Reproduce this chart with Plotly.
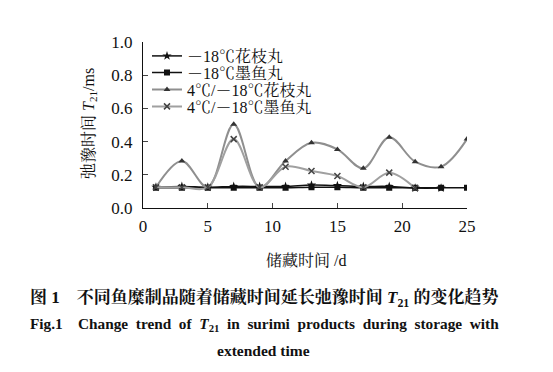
import plotly.graph_objects as go

days_a = [1, 3, 5, 7, 9, 11, 13, 15, 17, 19, 21, 23]
frozen_huazhi = [0.125, 0.13, 0.125, 0.13, 0.13, 0.13, 0.138, 0.135, 0.13, 0.13, 0.12, 0.12]

days_b = [1, 3, 5, 7, 9, 11, 13, 15, 17, 19, 21, 23, 25]
frozen_moyu = [0.122, 0.122, 0.122, 0.122, 0.122, 0.122, 0.125, 0.125, 0.122, 0.122, 0.122, 0.122, 0.122]

days_c = [1, 3, 5, 7, 9, 11, 13, 15, 17, 19, 21, 23, 25]
chill_huazhi = [0.125, 0.283, 0.125, 0.504, 0.125, 0.283, 0.393, 0.353, 0.239, 0.426, 0.279, 0.249, 0.415]

days_d = [1, 3, 5, 7, 9, 11, 13, 15, 17, 19, 21]
chill_moyu = [0.125, 0.125, 0.125, 0.415, 0.125, 0.249, 0.223, 0.193, 0.125, 0.213, 0.12]

names = ["－18℃花枝丸", "－18℃墨鱼丸", "4℃/－18℃花枝丸", "4℃/－18℃墨鱼丸"]
y_ticks = [0, 0.2, 0.4, 0.6, 0.8, 1.0]
y_ticktext = ["0.0", "0.2", "0.4", "0.6", "0.8", "1.0"]
x_ticks = [0, 5, 10, 15, 20, 25]

SERIF = "Liberation Serif, Times New Roman, Noto Serif CJK SC, Noto Sans CJK SC, serif"

L, R, T, B = 143, 86, 42, 164
W, H = 553, 372
PW, PH = W - L - R, H - T - B

def px_x(x):
    return (x - L) / PW

def px_y(y):
    return (H - B - y) / PH

fig = go.Figure()
fig.add_trace(go.Scatter(x=days_a, y=frozen_huazhi, name=names[0], mode="lines+markers",
                         legend="legend",
                         line=dict(color="#111111", width=1.5, shape="spline"),
                         marker=dict(symbol="star", size=7, color="#111111")))
fig.add_trace(go.Scatter(x=days_b, y=frozen_moyu, name=names[1], mode="lines+markers",
                         legend="legend2",
                         line=dict(color="#111111", width=1.5, shape="spline"),
                         marker=dict(symbol="square", size=6, color="#111111")))
fig.add_trace(go.Scatter(x=days_c, y=chill_huazhi, name=names[2], mode="lines+markers",
                         legend="legend3",
                         line=dict(color="#8f8f8f", width=2, shape="spline", smoothing=1.0),
                         marker=dict(symbol="triangle-up", size=6, color="#333333")))
fig.add_trace(go.Scatter(x=days_d, y=chill_moyu, name=names[3], mode="lines+markers",
                         legend="legend4",
                         line=dict(color="#a0a0a0", width=2, shape="spline", smoothing=1.0),
                         marker=dict(symbol="x-thin-open", size=6, color="#444444",
                                     line=dict(width=1.5, color="#444444"))))

legend_rows = [56, 72.7, 89.5, 106.5]
leg_common = dict(x=px_x(147), xanchor="left", yanchor="middle",
                  bgcolor="rgba(0,0,0,0)", font=dict(size=16, family=SERIF),
                  itemwidth=30, borderwidth=0)

fig.update_layout(
    width=W, height=H,
    margin=dict(l=L, r=R, t=T, b=B),
    paper_bgcolor="white", plot_bgcolor="white",
    font=dict(family=SERIF, size=16, color="#111111"),
    showlegend=True,
    legend=dict(y=px_y(legend_rows[0]), **leg_common),
    legend2=dict(y=px_y(legend_rows[1]), **leg_common),
    legend3=dict(y=px_y(legend_rows[2]), **leg_common),
    legend4=dict(y=px_y(legend_rows[3]), **leg_common),
    xaxis=dict(range=[0, 25], tickvals=x_ticks, ticks="inside", ticklen=5,
               showline=True, linecolor="#111111", linewidth=1, showgrid=False,
               zeroline=False, tickfont=dict(size=17), ticklabelstandoff=3),
    yaxis=dict(range=[0, 1.0], tickvals=y_ticks, ticktext=y_ticktext,
               ticks="inside", ticklen=5, showline=True, linecolor="#111111", linewidth=1,
               showgrid=False, zeroline=False, tickfont=dict(size=17), ticklabelstandoff=6),
)

NB = "\u00a0"
line1 = ("<b>图 1" + NB * 4 + "不同鱼糜制品随着储藏时间延长弛豫时间 <i>T</i><sub>21</sub> 的变化趋势</b>")
words2 = ["Change", "trend", "of", "<i>T</i><sub>21</sub>", "in", "surimi", "products",
          "during", "storage", "with"]
line2 = "<b>Fig.1" + NB * 4 + (" " + NB).join(words2) + "</b>"

ann = [
    dict(text="储藏时间 /d", x=px_x(306), y=px_y(260), font=dict(size=16)),
    dict(text="弛豫时间 <i>T</i><sub>21</sub>/ms", x=px_x(89), y=px_y(124), textangle=-90,
         font=dict(size=16)),
    dict(text=line1, x=px_x(264), y=px_y(298), font=dict(size=17)),
    dict(text=line2, x=px_x(264), y=px_y(324), font=dict(size=15.3)),
    dict(text="<b>extended time</b>", x=px_x(263), y=px_y(350), font=dict(size=15.5)),
]
for a in ann:
    fig.add_annotation(xref="paper", yref="paper", xanchor="center", yanchor="middle",
                       showarrow=False, **a)

fig.write_html("out.html", post_script="document.body.style.margin='0';",
               config={"displayModeBar": False})
